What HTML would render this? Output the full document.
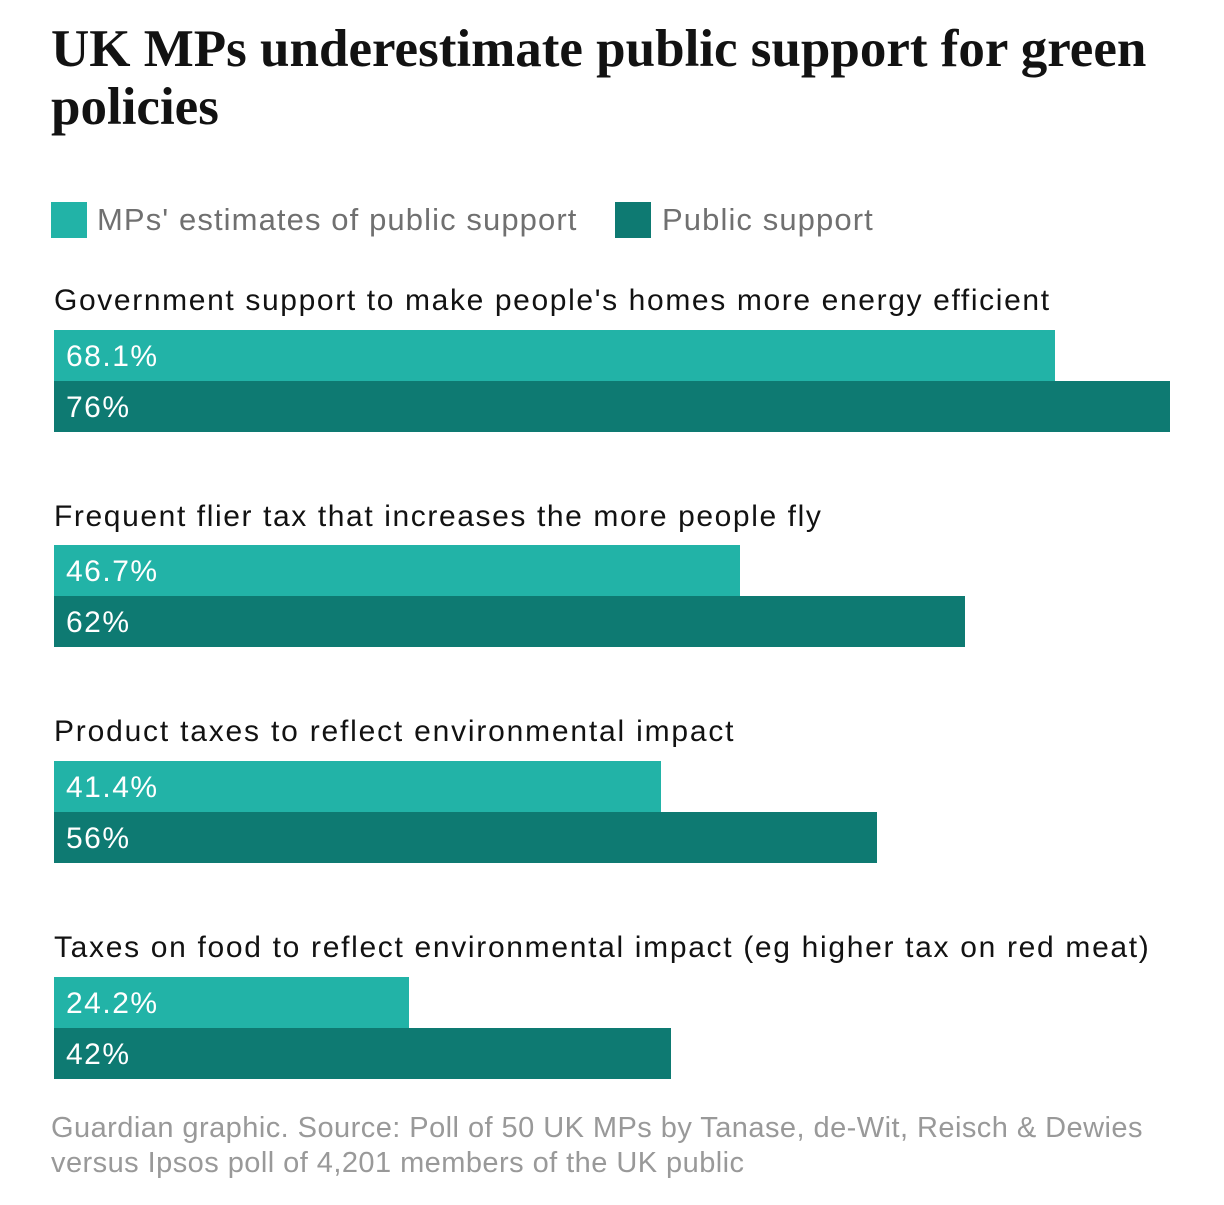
<!DOCTYPE html>
<html><head><meta charset="utf-8"><style>
body{margin:0;width:1224px;height:1205px;background:#fff;position:relative;overflow:hidden;font-family:"Liberation Sans",sans-serif}
.t{position:absolute;left:51px;top:20px;width:1120px;font-family:"Liberation Serif",serif;font-weight:bold;font-size:53px;line-height:58px;color:#121212;letter-spacing:0px}
.sq{position:absolute;width:36px;height:36px;top:202px}
.lg{position:absolute;top:200px;font-size:31px;color:#707070;line-height:40px;letter-spacing:1.1px;white-space:nowrap}
.cat{position:absolute;left:54px;font-size:30px;color:#121212;line-height:40px;white-space:nowrap;letter-spacing:1.8px}
.b{position:absolute;left:54px;height:51px;color:#fff;font-size:30px;line-height:53px;box-sizing:border-box;padding-left:12px;letter-spacing:1.5px}
.l{background:#22b3a7}.d{background:#0e7a72}
.f{position:absolute;left:51px;top:1111px;font-size:29px;line-height:35px;color:#999;letter-spacing:0.45px;white-space:nowrap}
</style></head><body>
<div class="t">UK MPs underestimate public support for green policies</div>
<div class="sq l" style="left:51px"></div><div class="lg" style="left:97px">MPs' estimates of public support</div>
<div class="sq d" style="left:615px"></div><div class="lg" style="left:662px">Public support</div>

<div class="cat" style="top:281px;letter-spacing:1.63px">Government support to make people's homes more energy efficient</div>
<div class="b l" style="top:330px;width:1001px">68.1%</div>
<div class="b d" style="top:381px;width:1116px">76%</div>

<div class="cat" style="top:497px;letter-spacing:1.6px">Frequent flier tax that increases the more people fly</div>
<div class="b l" style="top:545px;width:686px">46.7%</div>
<div class="b d" style="top:596px;width:911px">62%</div>

<div class="cat" style="top:712px">Product taxes to reflect environmental impact</div>
<div class="b l" style="top:761px;width:607px">41.4%</div>
<div class="b d" style="top:812px;width:823px">56%</div>

<div class="cat" style="top:928px;letter-spacing:1.68px">Taxes on food to reflect environmental impact (eg higher tax on red meat)</div>
<div class="b l" style="top:977px;width:355px">24.2%</div>
<div class="b d" style="top:1028px;width:617px">42%</div>

<div class="f">Guardian graphic. Source: Poll of 50 UK MPs by Tanase, de-Wit, Reisch &amp; Dewies<br>versus Ipsos poll of 4,201 members of the UK public</div>
</body></html>
